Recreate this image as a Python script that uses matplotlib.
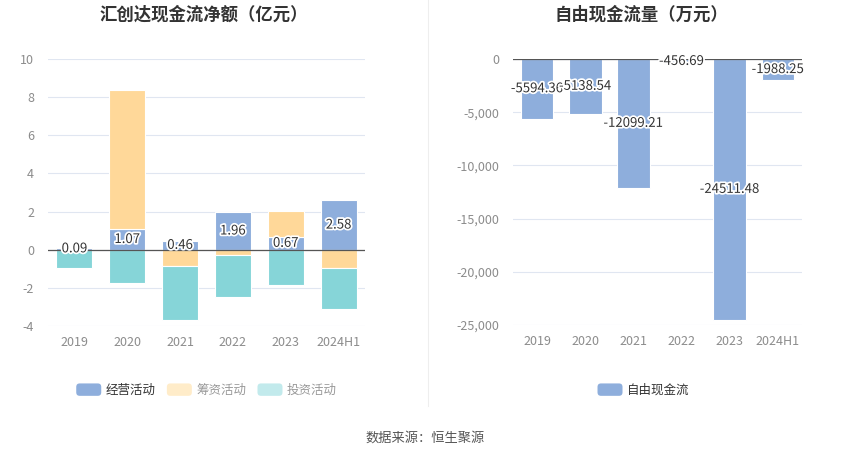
import numpy as np
import matplotlib
matplotlib.use('Agg')
from matplotlib import pyplot as plt
from matplotlib.patches import Patch, FancyBboxPatch
from matplotlib.legend_handler import HandlerPatch
import matplotlib.patheffects as pe
from matplotlib.ticker import FuncFormatter

plt.rcParams['font.family'] = ['Noto Sans CJK SC', 'DejaVu Sans']
plt.rcParams['axes.unicode_minus'] = False

years = ['2019', '2020', '2021', '2022', '2023', '2024H1']
operating = [0.09, 1.07, 0.46, 1.96, 0.67, 2.58]
financing = [0.05, 7.29, -0.88, -0.30, 1.35, -0.95]
investing = [-0.98, -1.77, -2.80, -2.16, -1.84, -2.14]
free_cf = [-5594.36, -5138.54, -12099.21, -456.69, -24511.48, -1988.25]

c_op = '#8eaedc'
c_fin = '#ffd899'
c_inv = '#86d5d8'
grid_c = '#e0e6f1'
tick_c = '#8c8c8c'


def rounded_patch(legend, orig_handle, xdescent, ydescent, width, height, fontsize):
    return FancyBboxPatch((-xdescent, -ydescent), width, height,
                          boxstyle='round,pad=0,rounding_size=2.5')


fig = plt.figure(figsize=(8.5, 4.59), dpi=100)

ax1 = fig.add_axes([0.0565, 0.2898, 0.373, 0.5817])
ax2 = fig.add_axes([0.6035, 0.292, 0.34, 0.5795])

x = np.arange(len(years))
w = 0.68

# stack positives on positives, negatives on negatives
pos = np.zeros(len(years))
neg = np.zeros(len(years))
for vals, col in [(operating, c_op), (financing, c_fin), (investing, c_inv)]:
    vals = np.array(vals)
    bottom = np.where(vals >= 0, pos, neg)
    ax1.bar(x, vals, w, bottom=bottom, color=col, edgecolor='white', linewidth=0.8, zorder=3)
    pos = pos + np.where(vals >= 0, vals, 0)
    neg = neg + np.where(vals < 0, vals, 0)

stroke = [pe.withStroke(linewidth=2.5, foreground='white')]
for i, v in enumerate(operating):
    ax1.text(x[i], v / 2, f'{v:.2f}', ha='center', va='center', fontsize=9.5,
             color='#333333', path_effects=stroke, zorder=5)

ax2.bar(x, free_cf, w, color=c_op, edgecolor='white', linewidth=0.8, zorder=3)
for i, v in enumerate(free_cf):
    ax2.text(x[i], v / 2, f'{v:.2f}', ha='center', va='center', fontsize=9.5,
             color='#333333', path_effects=stroke, zorder=5)

ax1.set_ylim(-4, 10)
ax1.set_yticks(np.arange(-4, 11, 2))
ax2.set_ylim(-25000, 0)
ax2.set_yticks(np.arange(-25000, 1, 5000))
ax2.yaxis.set_major_formatter(FuncFormatter(lambda v, p: f'{int(v):,}'))

for ax in (ax1, ax2):
    ax.set_xlim(-0.5, len(years) - 0.5)
    ax.set_xticks(x)
    ax.set_xticklabels(years)
    for s in ax.spines.values():
        s.set_visible(False)
    ax.grid(axis='y', color=grid_c, linewidth=0.8, zorder=0)
    ax.axhline(0, color='#555555', linewidth=0.9, zorder=4)
    ax.tick_params(axis='both', length=0, labelsize=9, labelcolor=tick_c)
    ax.tick_params(axis='y', pad=10)
    ax.tick_params(axis='x', pad=7)

fig.text(0.240, 0.968, '汇创达现金流净额（亿元）', ha='center', va='center',
         fontsize=12.5, fontweight='bold', color='#333333')
fig.text(0.755, 0.968, '自由现金流量（万元）', ha='center', va='center',
         fontsize=12.5, fontweight='bold', color='#333333')

fig.add_artist(plt.Line2D([0.503, 0.503], [0.115, 1.0], color='#eeeeee', linewidth=0.8))

hmap = {Patch: HandlerPatch(patch_func=rounded_patch)}
h1 = [Patch(facecolor=c_op, label='经营活动'),
      Patch(facecolor='#ffecc9', label='筹资活动'),
      Patch(facecolor='#c2eaec', label='投资活动')]
leg1 = fig.legend(handles=h1, handler_map=hmap, loc='center', bbox_to_anchor=(0.243, 0.15),
                  ncol=3, frameon=False, fontsize=9, handlelength=2.0, handleheight=1.15,
                  handletextpad=0.35, columnspacing=0.9)
for t, c in zip(leg1.get_texts(), ['#333333', '#999999', '#999999']):
    t.set_color(c)
h2 = [Patch(facecolor=c_op, label='自由现金流')]
leg2 = fig.legend(handles=h2, handler_map=hmap, loc='center', bbox_to_anchor=(0.757, 0.15),
                  ncol=1, frameon=False, fontsize=9, handlelength=2.0, handleheight=1.15,
                  handletextpad=0.35)
leg2.get_texts()[0].set_color('#333333')

fig.text(0.5, 0.045, '数据来源：恒生聚源', ha='center', va='center', fontsize=9.5, color='#555555')

fig.savefig('out.png', dpi=100)
